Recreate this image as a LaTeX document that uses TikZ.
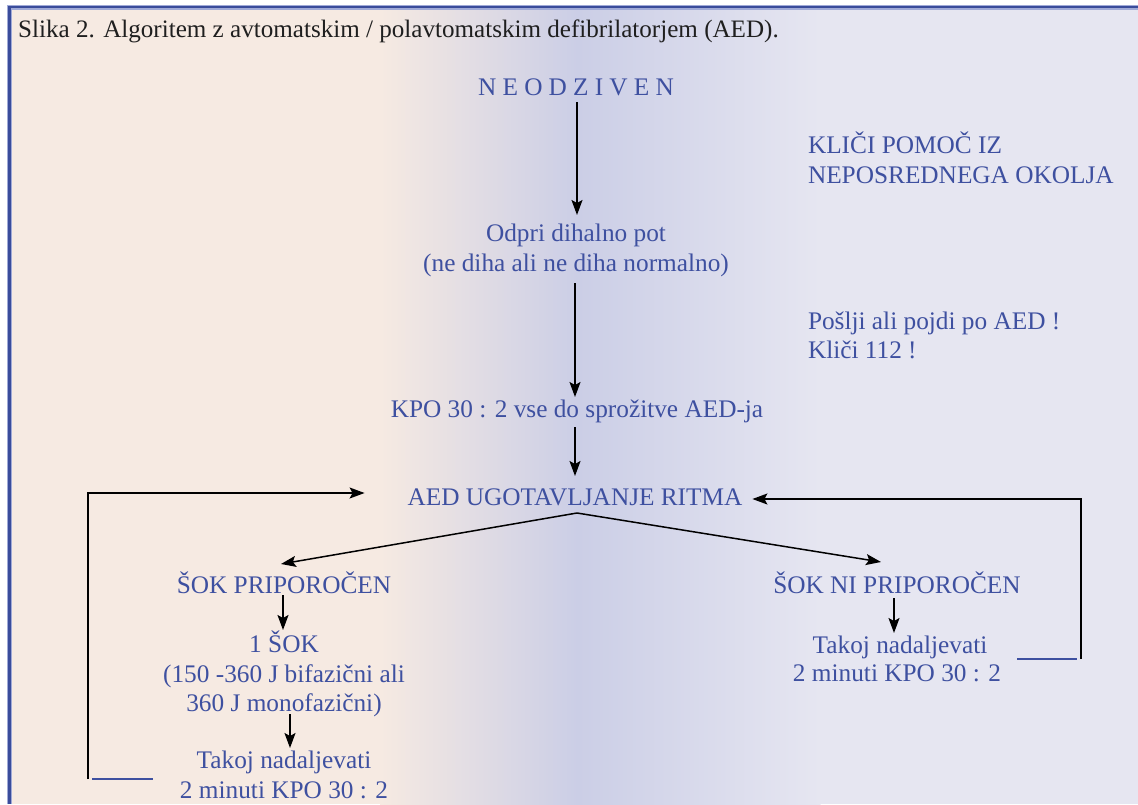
\documentclass[tikz,border=0pt]{standalone}
\usepackage{fontspec}
\setmainfont{Liberation Serif}
\usetikzlibrary{arrows.meta}
\definecolor{peach}{RGB}{246,234,226}
\definecolor{lavdark}{RGB}{203,206,230}
\definecolor{lavlight}{RGB}{230,230,241}
\definecolor{textblue}{RGB}{62,80,160}
\definecolor{bordercol}{RGB}{58,76,155}
\definecolor{borderhalo}{RGB}{160,170,215}
\begin{document}
\begin{tikzpicture}[x=1pt,y=-1pt,
  lbl/.style={text=textblue,font=\fontsize{25.3}{30}\selectfont,inner sep=0pt,outer sep=0pt,
              text height=17pt,text depth=5pt,anchor=base},
  lbll/.style={lbl,anchor=base west},
  arr/.style={draw=black,line width=1.5pt,-{Stealth[length=15pt,width=11pt,inset=3pt]}},
  stub/.style={draw=textblue,line width=1.8pt}]
\useasboundingbox (0,0) rectangle (1138,804);
% background
\fill[white] (0,0) rectangle (1138,804);
\fill[peach] (9,7) rectangle (380.5,804);
\shade[left color=peach,right color=lavdark] (380,7) rectangle (577.5,804);
\shade[left color=lavdark,right color=lavlight] (577,7) rectangle (820.5,804);
\fill[lavlight] (820,7) rectangle (1138,804);
% frame
\draw[borderhalo,line width=5pt] (9.5,804) -- (9.5,7) -- (1138,7);
\draw[bordercol,line width=2.6pt] (9.5,804) -- (9.5,7) -- (1138,7);
% title
\node[anchor=base west,inner sep=0pt,text=black!88,font=\fontsize{25.1}{29}\selectfont] (title) at (18,37)
  {Slika 2. Algoritem z avtomatskim / polavtomatskim defibrilatorjem (AED).};
% central column
\node[lbl] (neod) at (576,95) {N\hspace{6.2pt}E\hspace{6.2pt}O\hspace{6.2pt}D\hspace{6.2pt}Z\hspace{6.2pt}I\hspace{6.2pt}V\hspace{6.2pt}E\hspace{6.2pt}N};
\node[lbl] (odpri1) at (576,241) {Odpri dihalno pot};
\node[lbl] (odpri2) at (576,271) {(ne diha ali ne diha normalno)};
\node[lbl] (kpo) at (577,417) {KPO 30 : 2 vse do sprožitve AED-ja};
\node[lbl] (aed) at (575,505) {AED UGOTAVLJANJE RITMA};
% right notes
\node[lbll] (klici1) at (808,153) {KLIČI POMOČ IZ};
\node[lbll] (klici2) at (808,183) {NEPOSREDNEGA OKOLJA};
\node[lbll] (poslji) at (808,329) {Pošlji ali pojdi po AED !};
\node[lbll] (klici112) at (808,358) {Kliči 112 !};
% left branch
\node[lbl] (sok) at (284,593) {ŠOK PRIPOROČEN};
\node[lbl] (sok1) at (284,652) {1 ŠOK};
\node[lbl] (sok2) at (284,682) {(150 -360 J bifazični ali};
\node[lbl] (sok3) at (284,711) {360 J monofazični)};
\node[lbl] (tak1) at (284,768) {Takoj nadaljevati};
\node[lbl] (tak2) at (284,798) {2 minuti KPO 30 : 2};
% right branch
\node[lbl] (nisok) at (897,593) {ŠOK NI PRIPOROČEN};
\node[lbl] (ntak1) at (900,653) {Takoj nadaljevati};
\node[lbl] (ntak2) at (897,681) {2 minuti KPO 30 : 2};
% connectors
\draw[arr] ([xshift=1pt,yshift=-2pt]neod.south) -- ([xshift=1pt,yshift=9pt]odpri1.north);
\draw[arr] ([xshift=-1pt,yshift=-7pt]odpri2.south) -- ([xshift=-1pt,yshift=3pt]kpo.north -| odpri2.south);
\draw[arr] ([xshift=-2pt,yshift=-5pt]kpo.south) -- ([yshift=12pt]aed.north);
\draw[arr] ([xshift=2pt,yshift=-3pt]aed.south) -- ([xshift=-3pt,yshift=12pt]sok.north);
\draw[arr] ([xshift=2pt,yshift=-3pt]aed.south) -- ([xshift=-16pt,yshift=14pt]nisok.north);
\draw[arr] ([xshift=-1pt,yshift=3pt]sok.south) -- ([xshift=-1pt,yshift=5pt]sok1.north);
\draw[arr] ([xshift=6pt,yshift=2pt]sok3.south) -- ([xshift=6pt,yshift=3pt]tak1.north);
\draw[arr] ([xshift=-3pt]nisok.south) -- ([xshift=-6pt,yshift=3pt]ntak1.north);
% feedback loops
\coordinate (lstub) at (88,779);
\coordinate (rstub) at (1081,659);
\draw[stub] ([xshift=4pt]lstub) -- ([xshift=65pt]lstub);
\draw[stub] ([xshift=-64pt]rstub) -- ([xshift=-4pt]rstub);
\draw[arr] (lstub) |- ([xshift=-43pt,yshift=6pt]aed.west);
\draw[arr] (rstub) |- ([xshift=10pt]aed.east);
\end{tikzpicture}
\end{document}
